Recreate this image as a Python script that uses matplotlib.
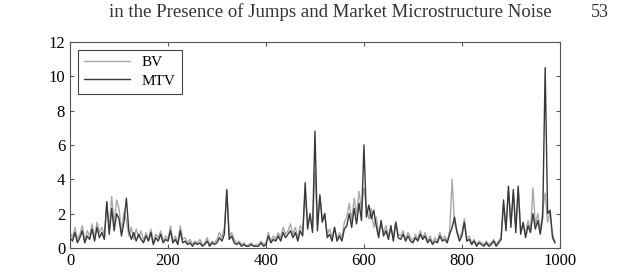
import numpy as np
import matplotlib
matplotlib.use("Agg")
import matplotlib.pyplot as plt

plt.rcParams['font.family'] = ['Liberation Serif', 'DejaVu Serif']

x_start, x_step = 0, 5
bv = [
    0.9,0.6,1.2,0.5,0.8,1.3,0.4,1.0,0.7,1.4,
    0.6,1.5,0.9,1.2,0.7,2.6,1.1,3.0,1.4,2.8,
    2.3,0.9,2.1,1.6,0.7,1.2,0.5,1.1,0.6,1.0,
    0.4,0.9,0.5,1.1,0.3,0.8,0.6,1.0,0.4,0.7,
    0.5,1.3,0.4,0.7,0.3,1.3,0.5,0.6,0.3,0.5,
    0.2,0.4,0.3,0.5,0.2,0.3,0.6,0.2,0.4,0.3,
    0.5,0.9,0.6,1.2,3.3,0.7,0.9,0.5,0.3,0.4,
    0.2,0.3,0.1,0.2,0.3,0.1,0.2,0.2,0.4,0.2,
    0.3,0.9,0.4,0.7,0.5,0.9,0.6,1.2,0.8,1.0,
    1.4,0.8,1.2,0.6,1.3,1.0,3.0,1.5,1.8,1.2,
    4.5,1.4,3.0,1.6,2.0,0.8,1.1,0.6,1.2,0.5,
    0.9,0.6,1.5,1.8,2.6,1.6,2.9,1.9,3.3,2.2,
    3.5,2.4,1.7,2.3,1.2,1.8,0.8,1.4,0.9,1.3,
    0.7,1.1,0.6,1.5,0.8,0.7,1.0,0.5,0.9,0.6,
    0.4,0.8,0.5,1.0,0.6,0.9,0.4,0.7,0.3,0.6,
    0.4,0.9,0.5,0.7,0.4,1.0,4.0,1.4,1.0,0.6,
    0.9,1.7,0.5,0.7,0.3,0.5,0.2,0.4,0.3,0.2,
    0.4,0.2,0.3,0.5,0.2,0.4,0.6,2.5,1.2,3.3,
    1.5,3.2,1.2,3.4,1.0,1.4,0.8,1.6,1.0,3.5,
    1.4,2.0,1.0,2.2,3.2,1.5,2.1,0.8,0.4,
]
mtv = [
    0.6,0.4,0.9,0.3,0.6,1.0,0.3,0.7,0.5,1.1,
    0.4,1.2,0.6,0.9,0.5,2.7,0.8,2.3,1.0,2.0,
    1.7,0.7,1.5,2.9,1.0,0.5,0.9,0.4,0.8,0.5,
    0.3,0.7,0.4,0.9,0.2,0.6,0.4,0.8,0.3,0.5,
    0.4,1.0,0.3,0.5,0.2,1.0,0.3,0.4,0.2,0.3,
    0.1,0.3,0.2,0.3,0.1,0.2,0.4,0.1,0.3,0.2,
    0.3,0.6,0.4,0.8,3.4,0.5,0.7,0.3,0.2,0.3,
    0.1,0.2,0.1,0.1,0.2,0.1,0.1,0.1,0.3,0.1,
    0.2,0.7,0.3,0.5,0.4,0.7,0.4,0.9,0.6,0.8,
    1.0,0.6,0.9,0.4,1.0,0.7,3.8,1.1,2.0,0.9,
    6.8,1.0,3.1,1.5,2.0,0.6,0.8,0.4,1.2,0.4,
    0.7,0.4,1.1,1.3,2.0,1.2,2.3,1.4,2.6,1.6,
    6.0,1.8,2.5,1.7,2.2,1.3,0.6,1.6,0.7,1.0,
    0.5,1.3,0.4,1.5,0.6,0.5,0.8,0.4,0.7,0.4,
    0.3,0.6,0.4,0.8,0.5,0.7,0.3,0.5,0.2,0.4,
    0.3,0.7,0.4,0.5,0.3,0.8,1.2,1.8,0.9,0.4,
    0.7,1.5,0.4,0.5,0.2,0.4,0.1,0.3,0.2,0.1,
    0.3,0.1,0.2,0.4,0.1,0.3,0.5,2.8,1.0,3.6,
    1.2,3.4,0.9,3.6,0.8,1.5,0.6,1.3,0.9,2.0,
    1.1,1.6,0.8,1.8,10.5,2.0,2.2,0.6,0.3,
]
labels = ["BV", "MTV"]
xticks = [0, 200, 400, 600, 800, 1000]
yticks = [0, 2, 4, 6, 8, 10, 12]
header = "in the Presence of Jumps and Market Microstructure Noise"
page = "53"

xs = x_start + x_step * np.arange(len(bv))

fig = plt.figure(figsize=(6.2, 2.74), dpi=100)
ax = fig.add_axes([0.113, 0.095, 0.790, 0.752])
ax.plot(xs, bv, color='#a8a8a8', lw=1.0, label=labels[0])
ax.plot(xs, mtv, color='#383838', lw=1.0, label=labels[1])
ax.set_xlim(0, 1000)
ax.set_ylim(0, 12)
ax.set_xticks(xticks)
ax.set_yticks(yticks)
ax.tick_params(direction='in', top=True, right=True, labelsize=12, length=3, color='#555555')
for s in ax.spines.values():
    s.set_color('#555555')
    s.set_linewidth(0.8)
leg = ax.legend(loc='upper left', fancybox=False, edgecolor='#444444', fontsize=11,
                handlelength=3.0, borderaxespad=0.5, borderpad=0.4, labelspacing=0.3,
                framealpha=1)
leg.get_frame().set_linewidth(0.8)

fig.text(0.532, 0.955, header, ha='center', va='center', fontsize=13.5, color='#333333')
fig.text(0.968, 0.955, page, ha='center', va='center', fontsize=13, color='#333333')

fig.savefig('out.png', dpi=100)
